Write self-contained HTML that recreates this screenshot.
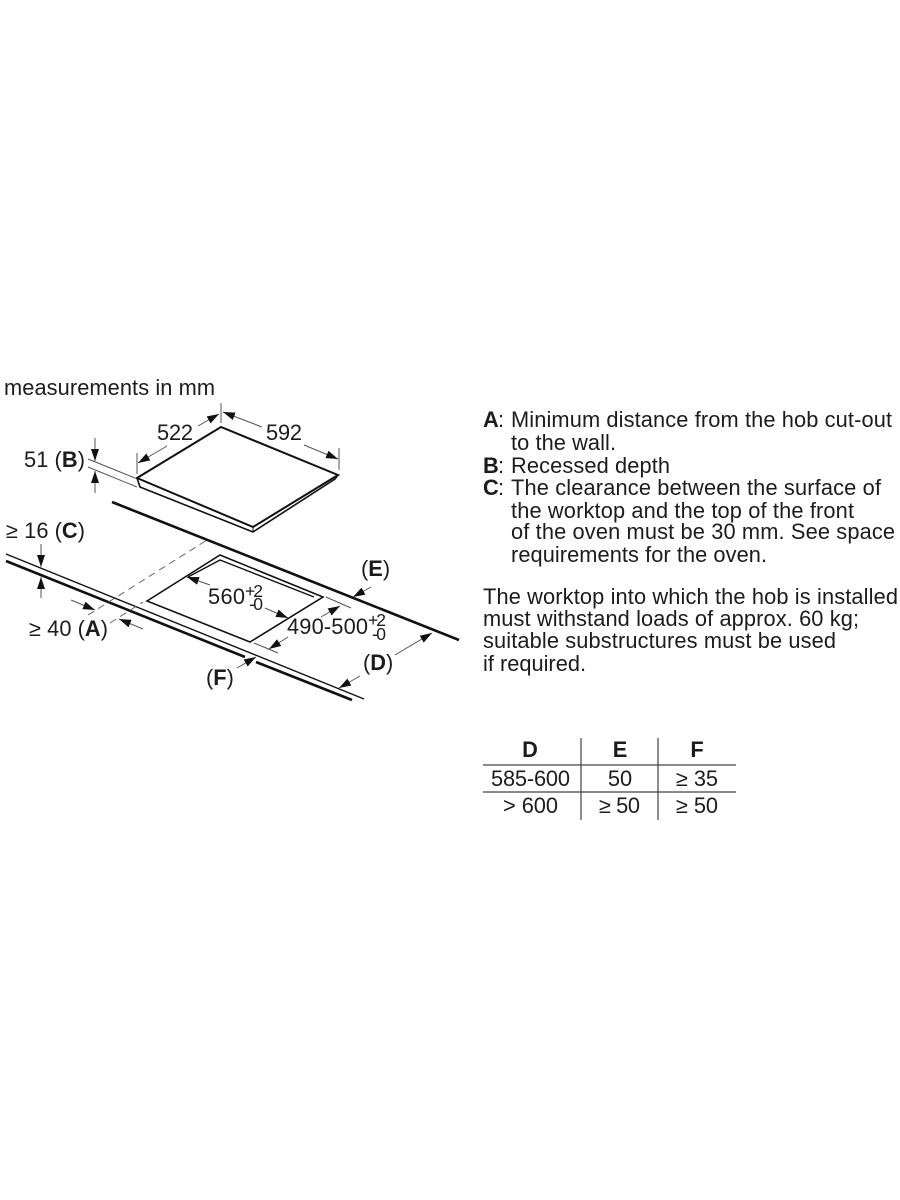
<!DOCTYPE html>
<html>
<head>
<meta charset="utf-8">
<style>
html,body{margin:0;padding:0;background:#fff;width:900px;height:1200px;overflow:hidden}
svg{display:block;filter:blur(0.3px)}
text{font-family:"Liberation Sans",sans-serif;font-size:21.8px;fill:#1c1c1c}
.b{font-weight:bold}
.s{font-size:17.5px}
.d{stroke:#555;stroke-width:1;fill:none}
.k{stroke:#111;fill:none}
</style>
</head>
<body>
<svg width="900" height="1200" viewBox="0 0 900 1200" xmlns="http://www.w3.org/2000/svg">
<defs>
<marker id="a" markerUnits="userSpaceOnUse" markerWidth="14" markerHeight="10" refX="12" refY="4" orient="auto">
<path d="M0 0L12 4L0 8Z" fill="#111"/>
</marker>
</defs>

<text x="4" y="395" textLength="211">measurements in mm</text>

<!-- Hob -->
<path class="k" stroke-width="2" d="M137 478L221 427L338 475L253 527Z"/>
<path class="k" stroke-width="1.6" d="M137 478L140 487L253 532L335 479L338 475"/>
<path class="k" stroke-width="1" d="M253 527V532"/>

<!-- Hob dimensions -->
<path class="d" d="M137 453V474M221 403V423M339 448V470"/>
<path class="d" marker-end="url(#a)" d="M167 446L138 463"/>
<path class="d" marker-end="url(#a)" d="M198 426L219 414"/>
<path class="d" marker-end="url(#a)" d="M262 427L223 412"/>
<path class="d" marker-end="url(#a)" d="M304 445L338 459"/>
<text x="157" y="440" textLength="36">522</text>
<text x="266" y="440" textLength="36">592</text>

<!-- B -->
<path class="d" d="M88 459L135 478M88 467L137 487"/>
<path class="d" marker-end="url(#a)" d="M95 438V461"/>
<path class="d" marker-end="url(#a)" d="M95 493V471"/>
<text x="24" y="467" textLength="61">51 (<tspan class="b">B</tspan>)</text>

<!-- Worktop back edge -->
<path class="k" stroke-width="2.6" d="M112 502L459 640"/>

<!-- Worktop front edge -->
<path class="k" stroke-width="1.4" d="M6 554L364 699"/>
<path class="k" stroke-width="2.6" d="M6 561L245 657M256 662L352 700"/>

<!-- Cut-out -->
<path class="k" stroke-width="1.6" d="M147 601L220 555L323 597L250 642Z"/>
<path class="k" stroke-width="1.4" d="M188 577L220 560L314 597"/>

<!-- Dashes -->
<path stroke="#666" stroke-width="1" stroke-dasharray="7 5" fill="none" d="M88 615L207 540M110 623L143 602"/>

<!-- C -->
<path class="d" marker-end="url(#a)" d="M41 544V567"/>
<path class="d" marker-end="url(#a)" d="M41 598V577"/>
<text x="6" y="538" textLength="79">≥ 16 (<tspan class="b">C</tspan>)</text>

<!-- A -->
<path class="d" marker-end="url(#a)" d="M71 600L95 610"/>
<path class="d" marker-end="url(#a)" d="M143 629L119 619"/>
<text x="29" y="636" textLength="79">≥ 40 (<tspan class="b">A</tspan>)</text>

<!-- 560 -->
<path class="d" marker-end="url(#a)" d="M210 585L187 577"/>
<path class="d" marker-end="url(#a)" d="M265 608L288 618"/>
<text x="208" y="604" textLength="37">560</text>
<text class="s" x="245" y="597" textLength="18">+2</text>
<text class="s" x="249" y="610" textLength="14">-0</text>

<!-- 490-500 -->
<path class="d" d="M326 597L351 608M254 643L278 653"/>
<path class="d" marker-end="url(#a)" d="M288 637L269 649"/>
<path class="d" marker-end="url(#a)" d="M321 617L340 606"/>
<text x="287" y="634" textLength="81">490-500</text>
<text class="s" x="368" y="626" textLength="18">+2</text>
<text class="s" x="372" y="640" textLength="14">-0</text>

<!-- E D F -->
<path class="d" marker-end="url(#a)" d="M371 587L353 597"/>
<path class="d" marker-end="url(#a)" d="M395 655L432 633"/>
<path class="d" marker-end="url(#a)" d="M360 676L339 688"/>
<path class="d" marker-end="url(#a)" d="M237 668L256 657"/>
<text x="361" y="576">(<tspan class="b">E</tspan>)</text>
<text x="363" y="670">(<tspan class="b">D</tspan>)</text>
<text x="206" y="685">(<tspan class="b">F</tspan>)</text>

<!-- Notes -->
<text class="b" x="483" y="427">A</text><text x="498" y="427">:</text>
<text x="511" y="427" textLength="381">Minimum distance from the hob cut-out</text>
<text x="511" y="450" textLength="105">to the wall.</text>
<text class="b" x="483" y="473">B</text><text x="498" y="473">:</text>
<text x="511" y="473" textLength="159">Recessed depth</text>
<text class="b" x="483" y="495">C</text><text x="498" y="495">:</text>
<text x="511" y="495" textLength="370">The clearance between the surface of</text>
<text x="511" y="518" textLength="343">the worktop and the top of the front</text>
<text x="511" y="539" textLength="384">of the oven must be 30 mm. See space</text>
<text x="511" y="562" textLength="256">requirements for the oven.</text>

<text x="483" y="604" textLength="415">The worktop into which the hob is installed</text>
<text x="483" y="626" textLength="376">must withstand loads of approx. 60 kg;</text>
<text x="483" y="648" textLength="353">suitable substructures must be used</text>
<text x="483" y="671" textLength="103">if required.</text>

<!-- Table -->
<path stroke="#444" stroke-width="1.2" fill="none" d="M483 765H736M483 792H736M581 738V820M658 738V820"/>
<text class="b" x="530" y="757" text-anchor="middle">D</text>
<text class="b" x="620" y="757" text-anchor="middle">E</text>
<text class="b" x="697" y="757" text-anchor="middle">F</text>
<text x="491" y="786" textLength="79">585-600</text>
<text x="620" y="786" text-anchor="middle">50</text>
<text x="676" y="786" textLength="42">≥ 35</text>
<text x="503" y="813" textLength="55">&gt; 600</text>
<text x="599" y="813" textLength="41">≥ 50</text>
<text x="676" y="813" textLength="42">≥ 50</text>
</svg>
</body>
</html>
